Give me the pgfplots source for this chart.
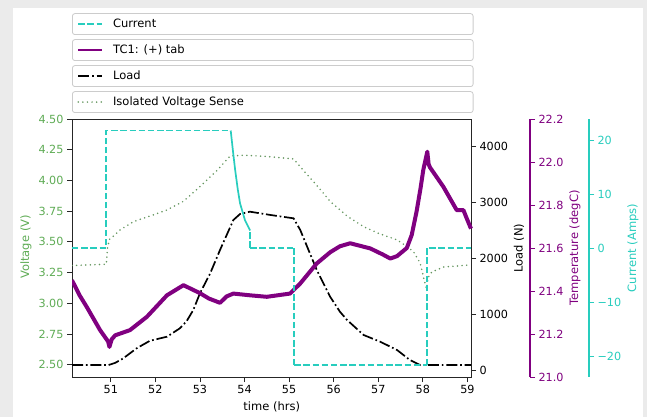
\documentclass[border=0pt]{standalone}
\usepackage{fontspec}
\setmainfont{DejaVu Sans}
\usepackage{pgfplots}
\pgfplotsset{compat=1.18}
\definecolor{vgreen}{RGB}{95,172,85}
\definecolor{vline}{RGB}{100,150,95}
\definecolor{cur}{RGB}{40,205,190}
\definecolor{tpurple}{RGB}{128,0,128}
\pgfplotsset{
 base/.style={scale only axis, at={(72pt,40pt)}, anchor=south west, height=258pt, xmin=50.13,
   tick align=outside, major tick length=5pt,
   /pgf/number format/assume math mode=true,
   every tick label/.append style={font=\fontsize{11.2}{13}\selectfont},
   label style={font=\fontsize{11.5}{13}\selectfont},
   legend cell align=left,
   legend image code/.code={\draw[##1] (0pt,0pt) -- (24pt,0pt);}},
 leg/.style={legend style={at={(0,1)}, anchor=south west, yshift=#1, draw=black!20, line width=0.8pt,
   rounded corners=2.5pt, fill=white, inner xsep=5pt, inner ysep=5pt, column sep=10pt,
   font=\fontsize{11.5}{13}\selectfont, nodes={inner sep=0pt, text height=8.5pt, text depth=2.5pt}}},
 curdash/.style={cur, line width=1.7pt, dash pattern=on 6.4pt off 2.8pt},
}
\begin{document}
\begin{tikzpicture}
\useasboundingbox (0,0) rectangle (647pt,417pt);
\fill[black!8] (0,0) rectangle (647pt,417pt);
\fill[white] (13pt,0) rectangle (643pt,409pt);

% Voltage axis
\begin{axis}[base, leg=6pt, width=399pt, xmax=59.08, ymin=2.4, ymax=4.5,
  xtick={51,52,53,54,55,56,57,58,59}, xticklabels={51,52,53,54,55,56,57,58,59},
  ytick={2.5,2.75,3,3.25,3.5,3.75,4,4.25,4.5},
  yticklabels={2.50,2.75,3.00,3.25,3.50,3.75,4.00,4.25,4.50},
  yticklabel style={text=vgreen}, xtick pos=bottom, ytick pos=left,
  axis line style={black!85, line width=0.9pt}, tick style={black!85, line width=0.8pt},
  ylabel={Voltage (V)}, ylabel style={text=vgreen, at={(axis description cs:-0.1153,0.504)}, anchor=center},
  xlabel={time (hrs)}, xlabel style={at={(axis description cs:0.5005,-0.115)}, anchor=center}]
\addplot[vline, line width=1.7pt, line cap=round, dash pattern=on 0pt off 4.6pt] coordinates {
(50.13,3.307) (50.90,3.318) (50.93,3.46) (50.97,3.52) (51.1,3.56) (51.21,3.598) (51.51,3.665)
(51.96,3.72) (52.26,3.76) (52.63,3.83) (53.0,3.95) (53.38,4.08) (53.68,4.20) (54.0,4.205)
(54.5,4.195) (55.1,4.175) (55.3,4.09) (55.62,3.96) (55.92,3.83) (56.14,3.76) (56.3,3.71)
(56.67,3.624) (57.0,3.57) (57.42,3.516) (57.65,3.46) (57.79,3.42) (57.94,3.327) (58.03,3.19)
(58.08,3.12) (58.12,3.21) (58.2,3.255) (58.46,3.295) (59.08,3.313)};
\addlegendentry{\makebox[355pt][l]{Isolated Voltage Sense}}
\end{axis}

% Load axis
\begin{axis}[base, leg=32pt, width=399pt, xmax=59.08, ymin=-112, ymax=4481,
  hide x axis, axis y line*=right,
  ytick={0,1000,2000,3000,4000}, yticklabels={0,1000,2000,3000,4000},
  y axis line style={black!85, line width=0.9pt}, tick style={black!85, line width=0.8pt},
  ylabel={Load (N)}, ylabel style={at={(axis description cs:1.1203,0.5)}, anchor=center}]
\addplot[black, line width=1.7pt, dash pattern=on 11pt off 2.8pt on 1.7pt off 2.8pt] coordinates {
(50.13,101) (50.95,101) (51.1,140) (51.28,220) (51.58,399) (51.88,534) (52.26,605) (52.55,755)
(52.7,880) (52.85,1080) (53.0,1378) (53.23,1734) (53.45,2149) (53.75,2683) (53.9,2790)
(54.12,2831) (54.6,2770) (55.1,2713) (55.25,2505) (55.62,1793) (55.92,1317) (56.14,1050)
(56.3,903) (56.67,636) (57.04,517) (57.42,369) (57.71,190) (57.94,101) (59.08,101)};
\addlegendentry{\makebox[355pt][l]{Load}}
\end{axis}

% Temperature axis
\begin{axis}[base, leg=58pt, width=458pt, xmax=60.404, ymin=21, ymax=22.2,
  hide x axis, axis y line*=right,
  ytick={21,21.2,21.4,21.6,21.8,22,22.2}, yticklabels={21.0,21.2,21.4,21.6,21.8,22.0,22.2},
  y axis line style={tpurple, line width=1.1pt}, tick style={tpurple, line width=0.9pt},
  yticklabel style={text=tpurple},
  legend image post style={line width=1.8pt},
  ylabel={Temperature (degC)}, ylabel style={text=tpurple, at={(axis description cs:1.0983,0.5)}, anchor=center}]
\addplot[tpurple, line width=4pt, line join=round] coordinates {
(50.13,21.45) (50.3,21.38) (50.46,21.326) (50.76,21.218) (50.94,21.165) (50.97,21.14) (51.02,21.175)
(51.1,21.194) (51.43,21.218) (51.81,21.28) (52.26,21.38) (52.63,21.427) (53.0,21.39) (53.2,21.365)
(53.45,21.345) (53.6,21.375) (53.75,21.388) (54.12,21.38) (54.5,21.373) (55.02,21.388) (55.25,21.435)
(55.62,21.528) (55.92,21.58) (56.14,21.608) (56.37,21.622) (56.82,21.598) (57.1,21.57) (57.27,21.551)
(57.42,21.562) (57.64,21.6) (57.75,21.66) (57.86,21.77) (57.95,21.88) (58.01,21.963) (58.06,22.01)
(58.1,22.048) (58.13,21.99) (58.16,21.975) (58.46,21.885) (58.76,21.776) (58.91,21.776) (59.0,21.73)
(59.08,21.69)};
\addlegendentry{\makebox[355pt][l]{TC1: (+) tab}}
\end{axis}

% Current axis
\begin{axis}[base, leg=84pt, width=517pt, xmax=61.727, ymin=-23.75, ymax=23.88,
  hide x axis, axis y line*=right,
  ytick={-20,-10,0,10,20}, yticklabels={−20,−10,0,10,20},
  y axis line style={cur, line width=1.1pt}, tick style={cur, line width=0.9pt},
  yticklabel style={text=cur},
  ylabel={Current (Amps)}, ylabel style={text=cur, at={(axis description cs:1.0851,0.5)}, anchor=center}]
\addplot[curdash] coordinates {
(50.13,0.1) (50.895,0.1) (50.895,21.75) (53.69,21.75)};
\addlegendentry{\makebox[355pt][l]{Current}}
\addplot[cur, line width=1.7pt, forget plot] coordinates {
(53.69,21.75) (53.74,18) (53.79,14.45) (53.85,10.8) (53.9,8.3) (54.01,5.2) (54.126,3.3)};
\addplot[curdash, forget plot] coordinates {(54.126,0.1) (54.126,3.3)};
\addplot[curdash, forget plot] coordinates {(54.126,0.1) (55.112,0.1)};
\addplot[curdash, forget plot] coordinates {(55.112,-21.55) (55.112,0.1)};
\addplot[curdash, forget plot] coordinates {(55.112,-21.55) (58.09,-21.55)};
\addplot[curdash, forget plot] coordinates {(58.09,-21.55) (58.09,0.1) (59.08,0.1)};
\end{axis}
\end{tikzpicture}
\end{document}
